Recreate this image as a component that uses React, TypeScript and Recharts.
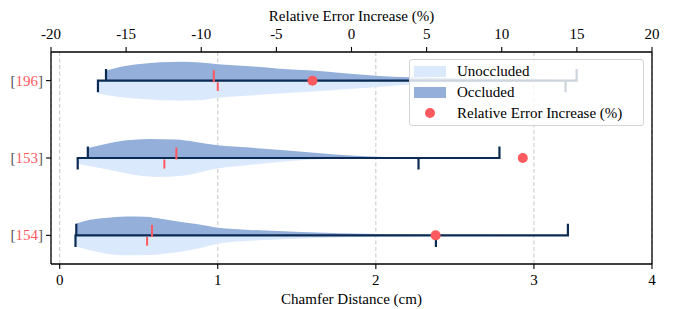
import React from "react";
import {
  ComposedChart,
  Area,
  Line,
  Scatter,
  XAxis,
  YAxis,
  CartesianGrid,
  Legend,
  ReferenceLine,
} from "recharts";

// ---------------- data ----------------
const CATEGORIES = ["196", "153", "154"];
const REL_ERROR_INCREASE = [-2.6, 11.4, 5.6]; // %

// [min, median, max] of Chamfer distance (cm)
const OCCLUDED_STATS = [
  [0.293, 0.975, 3.27],
  [0.178, 0.738, 2.782],
  [0.105, 0.584, 3.215],
];
const UNOCCLUDED_STATS = [
  [0.242, 1.0, 3.2],
  [0.114, 0.662, 2.27],
  [0.1, 0.553, 2.38],
];

// violin profiles: [chamfer distance (cm), relative density]
const OCC_196 = [
  [0.296, 0.53], [0.38, 0.72], [0.51, 0.88], [0.635, 0.97], [0.77, 1.0], [0.89, 0.96],
  [1.0, 0.87], [1.2, 0.76], [1.39, 0.63], [1.6, 0.53], [1.8, 0.39], [2.0, 0.26],
  [2.22, 0.18], [2.47, 0.13], [2.79, 0.09], [3.04, 0.06], [3.27, 0.04],
];
const UNOCC_196 = [
  [0.243, 0.68], [0.38, 0.87], [0.57, 1.0], [0.74, 1.05], [0.89, 1.02], [1.0, 0.9],
  [1.2, 0.79], [1.39, 0.68], [1.6, 0.58], [1.8, 0.46], [2.0, 0.35], [2.22, 0.21],
  [2.47, 0.13], [2.79, 0.08], [3.2, 0.04],
];
const OCC_153 = [
  [0.178, 0.53], [0.29, 0.74], [0.41, 0.92], [0.57, 1.0], [0.73, 0.97], [0.86, 0.85],
  [1.0, 0.67], [1.2, 0.55], [1.48, 0.37], [1.74, 0.18], [2.0, 0.06], [2.28, 0.03],
  [2.78, 0.015],
];
const UNOCC_153 = [
  [0.114, 0.3], [0.255, 0.53], [0.41, 0.79], [0.614, 1.0], [0.76, 0.95], [1.0, 0.55],
  [1.2, 0.37], [1.48, 0.14], [1.71, 0.05], [2.27, 0.015],
];
const OCC_154 = [
  [0.105, 0.63], [0.19, 0.82], [0.29, 0.92], [0.42, 1.0], [0.54, 0.98], [0.65, 0.86],
  [0.79, 0.68], [0.94, 0.5], [1.0, 0.4], [1.2, 0.29], [1.53, 0.18], [2.0, 0.07],
  [2.47, 0.03], [3.215, 0.015],
];
const UNOCC_154 = [
  [0.1, 0.58], [0.19, 0.79], [0.29, 0.95], [0.41, 1.05], [0.57, 1.03], [0.73, 0.9],
  [0.89, 0.66], [1.0, 0.44], [1.2, 0.29], [1.53, 0.16], [2.0, 0.07], [2.38, 0.025],
];
const OCC_PROFILES = [OCC_196, OCC_153, OCC_154];
const UNOCC_PROFILES = [UNOCC_196, UNOCC_153, UNOCC_154];

const BOTTOM_TICK_VALUES = [0, 1, 2, 3, 3.747];
const BOTTOM_TICK_LABELS = ["0", "1", "2", "3", "4"];
const TOP_TICKS = [-20, -15, -10, -5, 0, 5, 10, 15, 20];

// ---------------- style ----------------
const W = 673;
const H = 309;
const X_DOMAIN = [-0.055, 3.747];
const Y_DOMAIN = [-0.37, 2.37];
const VIOLIN_HALF = 0.245;
const TICK_LEN = 0.135;
const OCC_COLOR = "#93afda";
const UNOCC_COLOR = "#dbe9fc";
const NAVY = "#0b2a54";
const RED = "#ff5a5f";
const FONT = "'Liberation Serif', 'Times New Roman', serif";
const FS = 15;

const occRows = OCC_PROFILES.map((p, i) =>
  p.map(([x, d]) => ({ x, r: [i - d * VIOLIN_HALF, i] }))
);
const unoccRows = UNOCC_PROFILES.map((p, i) =>
  p.map(([x, d]) => ({ x, r: [i, i + d * VIOLIN_HALF] }))
);

function segRows(segs: number[][]) {
  const rows: { x: number; y: number | null }[] = [];
  segs.forEach(([x1, y1, x2, y2]) => {
    rows.push({ x: x1, y: y1 });
    rows.push({ x: x2, y: y2 });
    rows.push({ x: x2, y: null });
  });
  return rows;
}

const whiskerRows = CATEGORIES.map((_, i) => {
  const [oMin, , oMax] = OCCLUDED_STATS[i];
  const [uMin, , uMax] = UNOCCLUDED_STATS[i];
  return segRows([
    [Math.min(oMin, uMin), i, Math.max(oMax, uMax), i],
    [oMin, i, oMin, i - TICK_LEN],
    [oMax, i, oMax, i - TICK_LEN],
    [uMin, i, uMin, i + TICK_LEN],
    [uMax, i, uMax, i + TICK_LEN],
  ]);
});

const medianRows = CATEGORIES.map((_, i) =>
  segRows([
    [OCCLUDED_STATS[i][1], i + 0.02, OCCLUDED_STATS[i][1], i - TICK_LEN],
    [UNOCCLUDED_STATS[i][1], i + 0.02, UNOCCLUDED_STATS[i][1], i + TICK_LEN],
  ])
);

const relRows = CATEGORIES.map((_, i) => ({ rel: REL_ERROR_INCREASE[i], pos: i }));

const tickStyle = { fill: "#000", fontSize: FS, fontFamily: FONT };

function YTick(props: any) {
  const { x, y, payload } = props;
  const label = CATEGORIES[Math.round(payload.value)];
  return (
    <text x={x} y={y} textAnchor="end" dominantBaseline="central" fontSize={FS} fontFamily={FONT}>
      <tspan fill="#555">[</tspan>
      <tspan fill={RED}>{label}</tspan>
      <tspan fill="#555">]</tspan>
    </text>
  );
}

function LegendBox() {
  const row = { display: "flex", alignItems: "center", height: 21 } as React.CSSProperties;
  const patch = (c: string) => (
    <div style={{ width: 32, height: 11, background: c, marginLeft: 4, marginRight: 11 }} />
  );
  return (
    <div
      style={{
        border: "1px solid #d4d4d4",
        borderRadius: 3,
        background: "rgba(255,255,255,0.8)",
        padding: "0.5px 0",
        fontFamily: FONT,
        fontSize: FS,
        lineHeight: "21px",
        color: "#000",
        boxSizing: "border-box",
        width: 235,
        height: 67,
      }}
    >
      <div style={row}>
        {patch(UNOCC_COLOR)}
        <span>Unoccluded</span>
      </div>
      <div style={row}>
        {patch(OCC_COLOR)}
        <span>Occluded</span>
      </div>
      <div style={row}>
        <div style={{ width: 32, marginLeft: 4, marginRight: 11, display: "flex", justifyContent: "center" }}>
          <div style={{ width: 10, height: 10, borderRadius: 5, background: RED }} />
        </div>
        <span>Relative Error Increase (%)</span>
      </div>
    </div>
  );
}

export default function App() {
  return (
    <div style={{ position: "absolute", left: 0, top: 0, width: W, height: H, background: "#fff" }}>
      <ComposedChart
        width={W}
        height={H}
        margin={{ top: 0, right: 21, bottom: 0, left: 0 }}
        style={{ fontFamily: FONT }}
      >
        <CartesianGrid
          xAxisId="cd"
          yAxisId="y"
          horizontal={false}
          stroke="#c6c6c6"
          strokeDasharray="4 2.5"
        />
        <XAxis
          xAxisId="cd"
          dataKey="x"
          type="number"
          domain={X_DOMAIN}
          allowDataOverflow
          ticks={BOTTOM_TICK_VALUES}
          interval={0}
          tickFormatter={(v: number) => BOTTOM_TICK_LABELS[BOTTOM_TICK_VALUES.indexOf(v)] ?? ""}
          height={45}
          tickSize={5}
          tickMargin={5}
          tick={tickStyle}
          axisLine={{ stroke: "#000", strokeWidth: 1.3 }}
          tickLine={{ stroke: "#000", strokeWidth: 1.1 }}
          label={{ value: "Chamfer Distance (cm)", position: "insideBottom", offset: 5, fill: "#000", fontSize: FS, fontFamily: FONT }}
        />
        <XAxis
          xAxisId="rel"
          dataKey="rel"
          type="number"
          orientation="top"
          domain={[-20, 20]}
          allowDataOverflow
          ticks={TOP_TICKS}
          interval={0}
          height={52}
          tickSize={5}
          tickMargin={8}
          tick={tickStyle}
          axisLine={{ stroke: "#000", strokeWidth: 1.3 }}
          tickLine={{ stroke: "#000", strokeWidth: 1.1 }}
          label={{ value: "Relative Error Increase (%)", position: "insideTop", offset: 10, fill: "#000", fontSize: FS, fontFamily: FONT }}
        />
        <YAxis
          yAxisId="y"
          dataKey="pos"
          type="number"
          domain={Y_DOMAIN}
          allowDataOverflow
          reversed
          ticks={[0, 1, 2]}
          interval={0}
          width={51}
          tickSize={5}
          tickMargin={3}
          tick={<YTick />}
          axisLine={{ stroke: "#000", strokeWidth: 1.3 }}
          tickLine={{ stroke: "#000", strokeWidth: 1.1 }}
        />
        {CATEGORIES.map((c, i) => (
          <Area
            key={"o" + c}
            xAxisId="cd"
            yAxisId="y"
            data={occRows[i]}
            dataKey="r"
            type="monotone"
            stroke="none"
            fill={OCC_COLOR}
            fillOpacity={1}
            isAnimationActive={false}
            activeDot={false}
          />
        ))}
        {CATEGORIES.map((c, i) => (
          <Area
            key={"u" + c}
            xAxisId="cd"
            yAxisId="y"
            data={unoccRows[i]}
            dataKey="r"
            type="monotone"
            stroke="none"
            fill={UNOCC_COLOR}
            fillOpacity={1}
            isAnimationActive={false}
            activeDot={false}
          />
        ))}
        {CATEGORIES.map((c, i) => (
          <Line
            key={"w" + c}
            xAxisId="cd"
            yAxisId="y"
            data={whiskerRows[i]}
            dataKey="y"
            type="linear"
            stroke={NAVY}
            strokeWidth={2.2}
            strokeLinecap="square"
            dot={false}
            activeDot={false}
            connectNulls={false}
            isAnimationActive={false}
          />
        ))}
        {CATEGORIES.map((c, i) => (
          <Line
            key={"m" + c}
            xAxisId="cd"
            yAxisId="y"
            data={medianRows[i]}
            dataKey="y"
            type="linear"
            stroke={RED}
            strokeWidth={2}
            dot={false}
            activeDot={false}
            connectNulls={false}
            isAnimationActive={false}
          />
        ))}
        <ReferenceLine xAxisId="cd" yAxisId="y" x={X_DOMAIN[1]} stroke="#000" strokeWidth={1.3} />
        <Scatter
          xAxisId="rel"
          yAxisId="y"
          data={relRows}
          fill={RED}
          isAnimationActive={false}
          shape={(p: any) => <circle cx={p.cx} cy={p.cy} r={5} fill={RED} />}
        />
        <Legend
          layout="horizontal"
          verticalAlign="middle"
          align="center"
          content={() => <LegendBox />}
          wrapperStyle={{ left: 409, top: 59, width: 235, height: 67 }}
        />
      </ComposedChart>
    </div>
  );
}
